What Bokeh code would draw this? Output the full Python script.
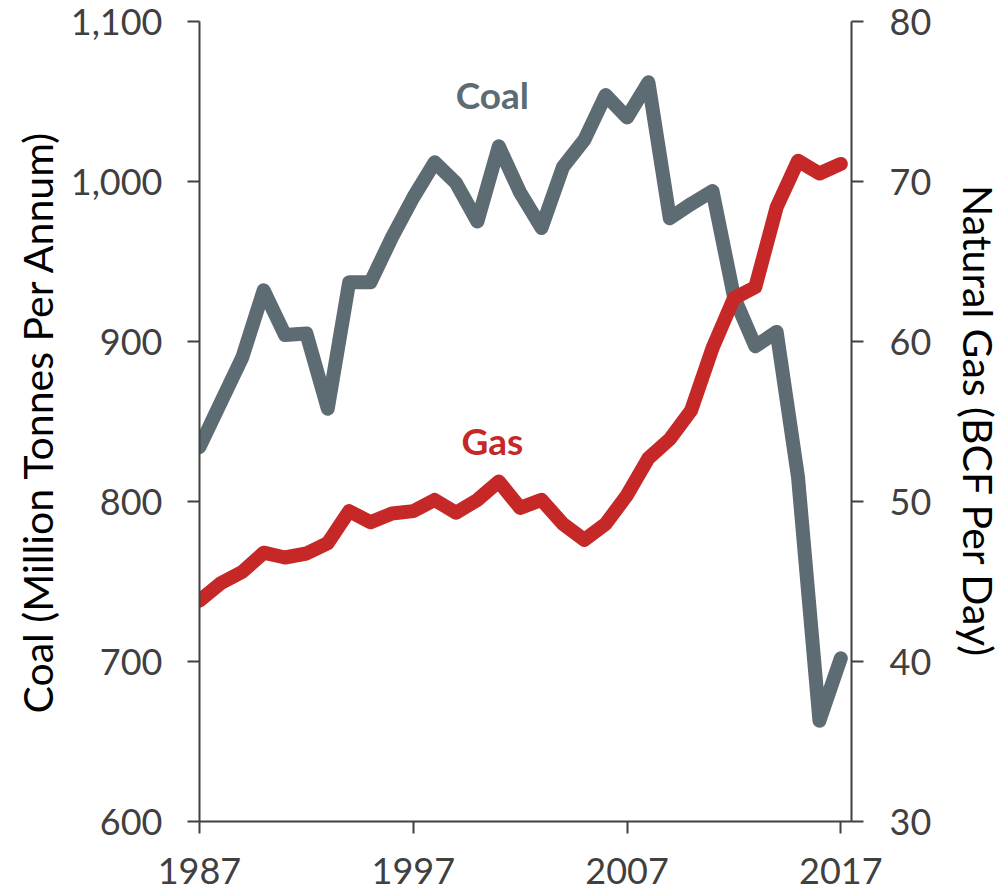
from bokeh.plotting import figure
from bokeh.models import Range1d, LinearAxis, FixedTicker, NumeralTickFormatter
from bokeh.core.properties import value
from bokeh.embed import file_html
from bokeh.resources import INLINE

years = list(range(1987, 2018))
coal = [834, 862, 890, 932, 904, 905, 858, 937, 937, 965, 990, 1012, 999, 975,
        1022, 993, 971, 1009, 1026, 1054, 1040, 1062, 977, 986, 994, 928, 897,
        906, 815, 663, 702]
gas = [43.8, 44.9, 45.6, 46.8, 46.5, 46.75, 47.4, 49.4, 48.7, 49.25, 49.4, 50.1,
       49.3, 50.1, 51.25, 49.6, 50.1, 48.6, 47.6, 48.6, 50.4, 52.7, 53.9, 55.7,
       59.6, 62.7, 63.4, 68.4, 71.3, 70.5, 71.1]
x_ticks = [1987, 1997, 2007, 2017]
coal_ticks = [600, 700, 800, 900, 1000, 1100]
gas_ticks = [30, 40, 50, 60, 70, 80]

FONT = "Lato"
AX = "#404040"
COAL_C = "#5d6b73"
GAS_C = "#c62828"

W, H = 1006, 890
p = figure(width=W, height=H, output_backend="svg", toolbar_location=None,
           x_range=Range1d(1987, 2017.5), y_range=Range1d(600, 1100))
p.min_border_left = 199
p.min_border_right = W - 854
p.min_border_top = 21
p.min_border_bottom = H - 821
p.outline_line_color = None
p.xgrid.visible = False
p.ygrid.visible = False
p.background_fill_color = "white"

p.extra_y_ranges = {"gas": Range1d(30, 80)}
raxis = LinearAxis(y_range_name="gas")
p.add_layout(raxis, "right")

for ax in [p.xaxis[0], p.yaxis[0], raxis]:
    ax.axis_line_color = AX
    ax.axis_line_width = 2
    ax.major_tick_line_color = AX
    ax.major_tick_line_width = 2
    ax.major_tick_out = 12
    ax.major_tick_in = 0
    ax.minor_tick_out = 0
    ax.minor_tick_in = 0
    ax.major_label_text_font = FONT
    ax.major_label_text_font_size = "36px"
    ax.major_label_text_color = AX
    ax.axis_label_text_font = FONT
    ax.axis_label_text_font_size = "41px"
    ax.axis_label_text_color = "black"
    ax.axis_label_text_font_style = "normal"

p.xaxis[0].ticker = FixedTicker(ticks=x_ticks)
p.xaxis[0].major_label_standoff = 24
p.yaxis[0].ticker = FixedTicker(ticks=coal_ticks)
p.yaxis[0].formatter = NumeralTickFormatter(format="0,0")
p.yaxis[0].major_label_standoff = 25
p.yaxis[0].axis_label = "Coal (Million Tonnes Per Annum)"
p.yaxis[0].axis_label_standoff = 6
raxis.ticker = FixedTicker(ticks=gas_ticks)
raxis.major_label_standoff = 26
raxis.axis_label = "Natural Gas (BCF Per Day)"
raxis.axis_label_standoff = 20

p.line(years, coal, line_color=COAL_C, line_width=14, line_join="round", line_cap="round")
p.line(years, gas, line_color=GAS_C, line_width=14, line_join="round", line_cap="round",
       y_range_name="gas")

p.text(x=[2000.7], y=[1054.5], text=["Coal"], text_color=COAL_C, text_font=value(FONT),
       text_font_size="37px", text_font_style="bold", text_align="center", text_baseline="middle")
p.text(x=[2000.7], y=[838], text=["Gas"], text_color=GAS_C, text_font=value(FONT),
       text_font_size="37px", text_font_style="bold", text_align="center", text_baseline="middle")

open("out.html", "w").write(file_html(p, INLINE))
